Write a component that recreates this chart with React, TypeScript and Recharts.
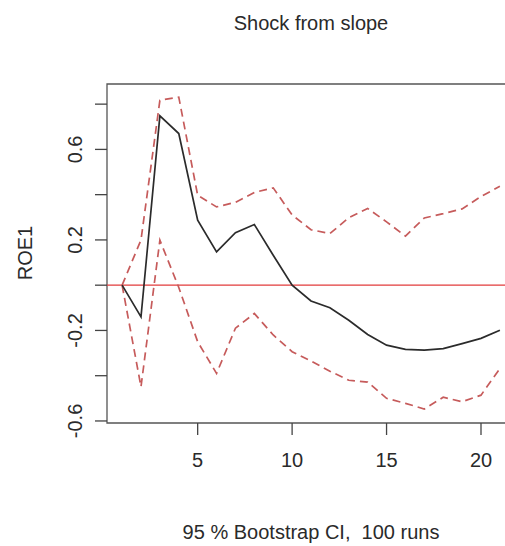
import React from 'react';
import { LineChart, Line, XAxis, YAxis, ReferenceLine, ReferenceArea } from 'recharts';

const steps = [1, 2, 3, 4, 5, 6, 7, 8, 9, 10, 11, 12, 13, 14, 15, 16, 17, 18, 19, 20, 21];
const irf = [0, -0.14, 0.748, 0.67, 0.287, 0.147, 0.232, 0.268, 0.132, 0.0, -0.07, -0.1, -0.155, -0.218, -0.265, -0.284, -0.287, -0.28, -0.258, -0.235, -0.199];
const upper = [0, 0.2, 0.817, 0.831, 0.397, 0.346, 0.366, 0.41, 0.43, 0.31, 0.245, 0.228, 0.298, 0.339, 0.28, 0.217, 0.297, 0.316, 0.337, 0.392, 0.437];
const lower = [0, -0.449, 0.199, -0.01, -0.25, -0.39, -0.19, -0.125, -0.22, -0.294, -0.335, -0.38, -0.42, -0.428, -0.5, -0.522, -0.547, -0.495, -0.515, -0.486, -0.368];

const xTicks = [5, 10, 15, 20];
const yTicks = [-0.6, -0.4, -0.2, 0, 0.2, 0.4, 0.6, 0.8];
const yLabeled = ['0.6', '0.2', '-0.2', '-0.6'];

const X_MIN = 0.2;
const X_MAX = 21.8;
const Y_MIN = -0.609;
const Y_MAX = 0.889;

const title = 'Shock from slope';
const xLabel = '95 % Bootstrap CI,  100 runs';
const yLabel = 'ROE1';

const data = steps.map((s, i) => ({ step: s, irf: irf[i], upper: upper[i], lower: lower[i] }));

const FONT = '"Liberation Sans", Arial, Helvetica, sans-serif';
const TEXT = '#2a2a2a';

const fmt = (v: number) => {
  const r = Math.round(v * 10) / 10;
  return r === 0 ? '0.0' : r.toFixed(1);
};

const YTick = (props: any) => {
  const { x, y, payload } = props;
  const label = fmt(payload.value);
  if (!yLabeled.includes(label)) return <g />;
  return (
    <text
      x={x}
      y={y}
      transform={`rotate(-90, ${x}, ${y})`}
      textAnchor="middle"
      fontFamily={FONT}
      fontSize={20}
      fill={TEXT}
    >
      {label}
    </text>
  );
};

const XTick = (props: any) => {
  const { x, y, payload } = props;
  return (
    <text x={x} y={y} dy="0.71em" textAnchor="middle" fontFamily={FONT} fontSize={20} fill={TEXT}>
      {payload.value}
    </text>
  );
};

export default function App() {
  return (
    <div
      style={{
        position: 'absolute',
        left: 0,
        top: 0,
        width: 505,
        height: 546,
        overflow: 'hidden',
        background: '#fff',
      }}
    >
      <LineChart width={540} height={546} data={data} margin={{ top: 84, right: 25, bottom: 73, left: 47 }}>
        <XAxis
          dataKey="step"
          type="number"
          domain={[X_MIN, X_MAX]}
          ticks={xTicks}
          allowDataOverflow
          axisLine={false}
          tickLine={{ stroke: '#444', strokeWidth: 1.3 }}
          tickSize={12}
          tickMargin={18}
          height={50}
          tick={<XTick />}
          interval={0}
        />
        <YAxis
          type="number"
          domain={[Y_MIN, Y_MAX]}
          ticks={yTicks}
          allowDataOverflow
          axisLine={false}
          tickLine={{ stroke: '#444', strokeWidth: 1.3 }}
          tickSize={12}
          tickMargin={13}
          width={60}
          tick={<YTick />}
          interval={0}
        />
        <ReferenceLine y={0} stroke="#e23b3b" strokeWidth={1.3} />
        <Line
          dataKey="upper"
          type="linear"
          stroke="#c65b5b"
          strokeWidth={1.7}
          strokeDasharray="8 5"
          dot={false}
          isAnimationActive={false}
        />
        <Line
          dataKey="lower"
          type="linear"
          stroke="#c65b5b"
          strokeWidth={1.7}
          strokeDasharray="8 5"
          dot={false}
          isAnimationActive={false}
        />
        <Line
          dataKey="irf"
          type="linear"
          stroke="#2b2b2b"
          strokeWidth={1.7}
          dot={false}
          isAnimationActive={false}
        />
        <ReferenceArea
          x1={X_MIN}
          x2={X_MAX}
          y1={Y_MIN}
          y2={Y_MAX}
          fill="none"
          fillOpacity={0}
          stroke="#555"
          strokeWidth={1.3}
          ifOverflow="visible"
        />
      </LineChart>
      <svg
        width={505}
        height={546}
        style={{ position: 'absolute', left: 0, top: 0, pointerEvents: 'none' }}
      >
        <text x={311} y={30} textAnchor="middle" fontFamily={FONT} fontSize={20} fill={TEXT}>
          {title}
        </text>
        <text
          x={311}
          y={539}
          textAnchor="middle"
          fontFamily={FONT}
          fontSize={20}
          fill={TEXT}
          style={{ whiteSpace: 'pre' }}
        >
          {xLabel}
        </text>
        <text
          x={32}
          y={253}
          transform="rotate(-90, 32, 253)"
          textAnchor="middle"
          fontFamily={FONT}
          fontSize={20}
          fill={TEXT}
        >
          {yLabel}
        </text>
      </svg>
    </div>
  );
}
